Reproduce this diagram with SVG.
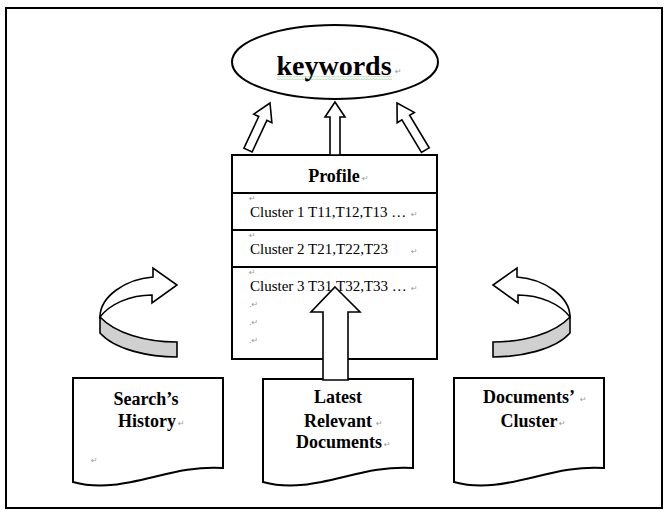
<svg xmlns="http://www.w3.org/2000/svg" width="669" height="514" viewBox="0 0 669 514">
<style>
.ln{fill:#fff;stroke:#000;stroke-width:1.6;stroke-linejoin:miter}
.box{fill:#fff;stroke:#000;stroke-width:2}
.b{font-family:"Liberation Serif","Times New Roman",serif;font-weight:bold;fill:#000}
.r{font-family:"Liberation Serif","Times New Roman",serif;fill:#000}
.pm{font-family:"DejaVu Sans",sans-serif;font-size:8px;fill:#999}
</style>
<defs>
<pattern id="sq" width="3" height="3" patternUnits="userSpaceOnUse">
<path d="M0,2.3 L1.5,0.8 L3,2.3" fill="none" stroke="#4a4" stroke-width="0.8"/>
</pattern>
</defs>
<rect x="0" y="0" width="669" height="514" fill="#fff"/>
<rect x="6" y="8" width="656" height="500" fill="none" stroke="#000" stroke-width="2"/>

<g id="keywords">
<ellipse cx="335" cy="62" rx="103" ry="37" class="box"/>
<text x="334" y="75" class="b" font-size="28" text-anchor="middle">keywords</text>
<rect x="277" y="76.5" width="115" height="3" fill="url(#sq)"/>
<circle cx="307" cy="80" r="1.5" fill="#000"/>
<text x="395" y="74" class="pm">↵</text>
</g>

<g id="profile">
<rect x="232" y="155" width="205" height="204" class="box"/>
<line x1="232" y1="193" x2="437" y2="193" stroke="#000" stroke-width="2"/>
<line x1="232" y1="230" x2="437" y2="230" stroke="#000" stroke-width="2"/>
<line x1="232" y1="267" x2="437" y2="267" stroke="#000" stroke-width="2"/>
<text x="334" y="182" class="b" font-size="18" text-anchor="middle">Profile</text>
<text x="362" y="181" class="pm">↵</text>
<text x="249" y="201" class="pm">↵</text>
<text x="250" y="217" class="r" font-size="15">Cluster 1 T11,T12,T13 …</text>
<text x="411" y="217" class="pm">↵</text>
<text x="249" y="238" class="pm">↵</text>
<text x="250" y="254" class="r" font-size="15">Cluster 2 T21,T22,T23</text>
<text x="411" y="254" class="pm">↵</text>
<text x="249" y="275" class="pm">↵</text>
<text x="250" y="291" class="r" font-size="15">Cluster 3 T31,T32,T33 …</text>
<text x="411" y="291" class="pm">↵</text>
<text x="249" y="307" class="pm">.↵</text>
<text x="249" y="325" class="pm">.↵</text>
<text x="249" y="343" class="pm">.↵</text>
</g>

<g id="search-history">
<path d="M73,378 H223 V468 C168,464 123,496 73,482 Z" class="box"/>
<text x="146" y="405" class="b" font-size="18" text-anchor="middle">Search’s</text>
<text x="147" y="427" class="b" font-size="18" text-anchor="middle">History</text>
<text x="178" y="426" class="pm">↵</text>
<text x="91" y="463" class="pm">↵</text>
</g>

<g id="latest-relevant-documents">
<path d="M263,379 H413 V468 C358,464 313,496 263,482 Z" class="box"/>
<text x="338" y="403" class="b" font-size="18" text-anchor="middle">Latest</text>
<text x="338" y="427" class="b" font-size="18" text-anchor="middle">Relevant</text>
<text x="339" y="448" class="b" font-size="18" text-anchor="middle">Documents</text>
<text x="376" y="426" class="pm">↵</text>
<text x="384" y="447" class="pm">↵</text>
</g>

<g id="documents-cluster">
<path d="M454,378 H604 V468 C549,464 504,496 454,482 Z" class="box"/>
<text x="529" y="403" class="b" font-size="18" text-anchor="middle">Documents’</text>
<text x="529" y="427" class="b" font-size="18" text-anchor="middle">Cluster</text>
<text x="580" y="402" class="pm">↵</text>
<text x="559" y="426" class="pm">↵</text>
</g>

<g id="connectors">
<polygon class="ln" points="335,102 345,117 340,117 340,155 330,155 330,117 325,117"/>
<polygon class="ln" transform="translate(270,103) rotate(25)" points="0,0 10,17 4.5,17 4.5,52 -4.5,52 -4.5,17 -10,17"/>
<polygon class="ln" transform="translate(397,103) rotate(-31)" points="0,0 10,17 4.5,17 4.5,55 -4.5,55 -4.5,17 -10,17"/>
<polygon class="ln" points="335,287 360,312 348,312 348,380 323,380 323,312 311,312"/>
<g id="curve-left">
<path class="ln" d="M153,277 L153,268 L177,285 L152,303 L152,295 C130,295 110,304 100,317 C100,297 125,279 153,277 Z"/>
<path d="M100,317 C115,333 145,342 177,342 L177,357 C150,357 115,350 100,333 Z" fill="#d0d0d0" stroke="#000" stroke-width="1.6"/>
</g>
<g id="curve-right" transform="matrix(-1 0 0 1 670 0)">
<path class="ln" d="M153,277 L153,268 L177,285 L152,303 L152,295 C130,295 110,304 100,317 C100,297 125,279 153,277 Z"/>
<path d="M100,317 C115,333 145,342 177,342 L177,357 C150,357 115,350 100,333 Z" fill="#d0d0d0" stroke="#000" stroke-width="1.6"/>
</g>
</g>
</svg>
